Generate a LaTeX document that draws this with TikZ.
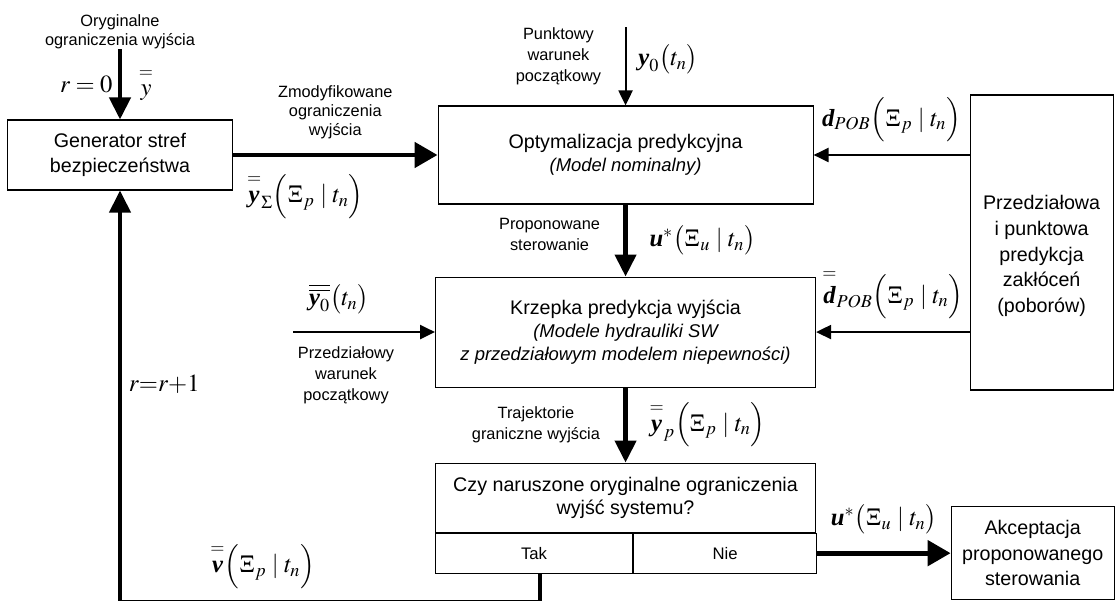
\documentclass[tikz,border=0pt]{standalone}
\usepackage{amsmath}
\usepackage{mathptmx}
\usepackage[no-math]{fontspec}
\setmainfont{Liberation Sans}
\newfontfamily\tmsfont{Liberation Serif}
\newcommand{\bv}[1]{\text{\tmsfont\bfseries\itshape #1}}
\newcommand{\eqbar}[1]{\overset{\raisebox{1.5pt}{$\scriptstyle =$}}{#1}}
\usepackage{tikz}
\usetikzlibrary{arrows.meta,positioning}

\begin{document}
\begin{tikzpicture}[
    box/.style={draw, line width=0.6pt, align=center, inner sep=0pt, font=\fontsize{11.2}{14.6}\selectfont},
    tbox/.style={box, font=\fontsize{11.2}{13.2}\selectfont},
    cell/.style={draw, line width=0.6pt, inner sep=0pt, minimum height=0.8cm, anchor=north west, font=\fontsize{9.5}{12}\selectfont},
    lbl/.style={align=center, font=\fontsize{9.3}{12}\selectfont},
    mlbl/.style={inner sep=1pt, font=\fontsize{14}{16}\selectfont},
    thickarr/.style={-{Triangle[length=0.44cm, width=0.42cm]}, line width=2.5pt},
    bigarr/.style={-{Triangle[length=0.46cm, width=0.5cm]}, line width=2.8pt},
    thinarr/.style={-{Triangle[length=0.3cm, width=0.28cm]}, line width=1.2pt},
  ]
  \useasboundingbox (0,0) rectangle (22.3,-12.02);

  \node[box, minimum width=4.5cm, minimum height=1.4cm] (gen) at (2.4,-3.1) {Generator stref\\bezpieczeństwa};
  \node[tbox, minimum width=7.5cm, minimum height=1.96cm, right=4.09cm of gen] (opt) {Optymalizacja predykcyjna\\{\fontsize{10.5}{13}\selectfont\itshape (Model nominalny)}};
  \node[tbox, minimum width=7.6cm, minimum height=2.2cm, below=1.44cm of opt] (krz) {Krzepka predykcja wyjścia\\{\fontsize{10.5}{13}\selectfont\itshape (Modele hydrauliki SW}\\{\fontsize{10.5}{13}\selectfont\itshape z przedziałowym modelem niepewności)}};
  \node[tbox, minimum width=7.6cm, minimum height=1.38cm, below=1.5cm of krz] (ques) {Czy naruszone oryginalne ograniczenia\\wyjść systemu?};
  \node[cell, minimum width=3.94cm] (tak) at (ques.south west) {Tak};
  \node[cell, minimum width=3.66cm] (nie) at (tak.north east) {Nie};
  \node[box, minimum width=2.86cm, minimum height=5.9cm, anchor=north west] (pred) at ([xshift=3.12cm, yshift=0.22cm]opt.north east) {};
  \node[align=center, font=\fontsize{11.2}{14.6}\selectfont] (predtxt) at ([yshift=-0.27cm]pred.center) {Przedziałowa\\i punktowa\\predykcja\\zakłóceń\\(poborów)};
  \node[box, minimum width=3.26cm, minimum height=1.86cm, right=2.67cm of nie] (akc) {Akceptacja\\proponowanego\\sterowania};

  \coordinate[above=1.4cm of gen] (ogr);
  \draw[thickarr] (ogr) -- (gen) node[midway, left=2pt, mlbl] {$r=0$} node[midway, right=0.3cm, mlbl] {$\eqbar{y}$};
  \node[lbl, above=0pt of ogr, yshift=-0.12cm, font=\fontsize{9.3}{11}\selectfont] (ogrtxt) {Oryginalne\\ograniczenia wyjścia};

  \draw[bigarr] (gen) -- (opt) node[midway, above=0.15cm, lbl, font=\fontsize{9.3}{11}\selectfont] {Zmodyfikowane\\ograniczenia\\wyjścia} node[midway, below=0.3cm, xshift=-0.6cm, mlbl] {$\eqbar{\bv{y}}_{\Sigma}\Bigl(\Xi_p \mid t_n\Bigr)$};

  \coordinate[above=1.56cm of opt] (pkt);
  \draw[thinarr] (pkt) -- (opt) node[midway, left=0.35cm, yshift=0.2cm, lbl] {Punktowy\\warunek\\początkowy} node[midway, right=0.2cm, yshift=0.14cm, mlbl] {$\bv{y}_0\bigl(t_n\bigr)$};

  \draw[thinarr] (pred.west |- opt.east) -- (opt.east) node[midway, above=0.2cm, mlbl] {$\bv{d}_{POB}\Bigl(\Xi_p \mid t_n\Bigr)$};

  \draw[thickarr] (opt) -- (krz) node[midway, left=0.35cm, yshift=0.12cm, lbl] {Proponowane\\sterowanie} node[midway, right=0.4cm, mlbl] {$\bv{u}^{*}\bigl(\Xi_u \mid t_n\bigr)$};

  \draw[thinarr] (pred.west |- krz.east) -- (krz.east) node[midway, above=0.2cm, mlbl] {$\eqbar{\bv{d}}_{POB}\Bigl(\Xi_p \mid t_n\Bigr)$};

  \coordinate[left=2.84cm of krz.west] (y0in);
  \draw[thinarr, line width=1.5pt] (y0in) -- (krz.west) node[midway, above=0.3cm, xshift=-0.5cm, mlbl] {$\overline{\overline{\bv{y}_0}}\bigl(t_n\bigr)$} node[midway, below=0.15cm, xshift=-0.36cm, lbl] {Przedziałowy\\warunek\\początkowy};

  \draw[thickarr] (krz) -- (ques) node[midway, left=0.35cm, lbl] {Trajektorie\\graniczne wyjścia} node[midway, right=0.4cm, mlbl] {$\eqbar{\bv{y}}_p\Bigl(\Xi_p \mid t_n\Bigr)$};

  \draw[bigarr] (nie) -- (akc) node[midway, above=0.3cm, mlbl] {$\bv{u}^{*}\bigl(\Xi_u \mid t_n\bigr)$};

  \coordinate[below=8.235cm of gen] (loop);
  \draw[thickarr, line width=2.3pt] ([xshift=0.12cm]tak.south) |- (loop) node[pos=0.83, above=0.2cm, mlbl] {$\eqbar{\bv{v}}\Bigl(\Xi_p \mid t_n\Bigr)$} -- (gen) node[pos=0.53, right=0.1cm, mlbl] {$r{=}r{+}1$};
\end{tikzpicture}
\end{document}
